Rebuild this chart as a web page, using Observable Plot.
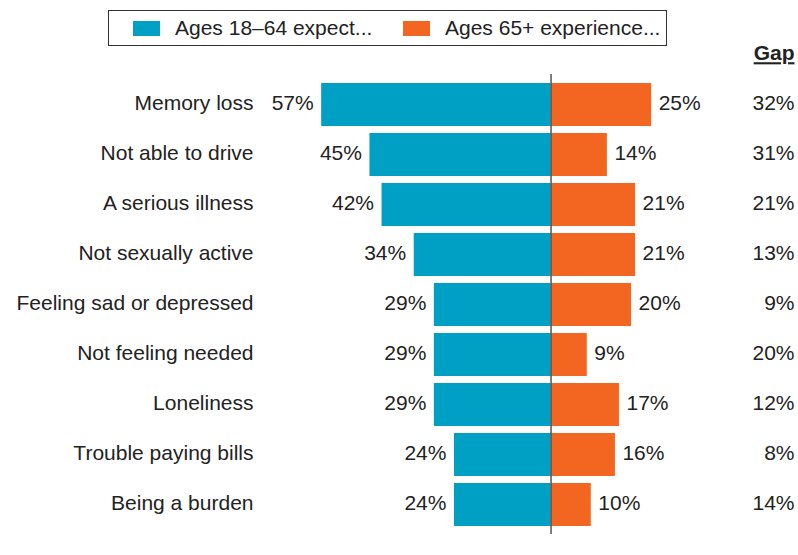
<!DOCTYPE html>
<html>
<head>
<meta charset="utf-8">
<script src="https://cdn.jsdelivr.net/npm/d3@7"></script>
<script src="https://cdn.jsdelivr.net/npm/@observablehq/plot@0.6"></script>
<style>
  html, body { margin: 0; padding: 0; background: #fff; }
  body { width: 798px; height: 555px; position: relative; overflow: hidden;
         font-family: "Liberation Sans", Arial, Helvetica, sans-serif; color: #222; }
  #legend { position: absolute; left: 108px; top: 10px; width: 557px; height: 34px;
            border: 1px solid #333; box-sizing: content-box; z-index: 2; background: #fff; }
  #legend .sw { position: absolute; top: 10px; width: 27px; height: 15px; }
  #legend .lb { position: absolute; top: 0; line-height: 34px; font-size: 21px; color: #222; white-space: nowrap; }
  #chart { position: absolute; left: 0; top: 40px; z-index: 1; }
</style>
</head>
<body>
<div id="legend"></div>
<div id="chart"></div>
<script>
const categories = ["Memory loss", "Not able to drive", "A serious illness", "Not sexually active",
  "Feeling sad or depressed", "Not feeling needed", "Loneliness", "Trouble paying bills", "Being a burden"];
const expect1864 = [57, 45, 42, 34, 29, 29, 29, 24, 24];
const experience65 = [25, 14, 21, 21, 20, 9, 17, 16, 10];
const gapValues = [32, 31, 21, 13, 9, 20, 12, 8, 14];
const seriesNames = ["Ages 18\u201364 expect...", "Ages 65+ experience..."];
const seriesColors = ["#00a0c4", "#f36621"];

const rows = categories.map((c, i) => ({cat: c, young: expect1864[i], old: experience65[i], gap: gapValues[i]}));

// Legend
const legend = document.getElementById("legend");
const legendPos = [[24, 66], [294, 336]];
seriesNames.forEach((name, i) => {
  const sw = document.createElement("div");
  sw.className = "sw"; sw.style.left = legendPos[i][0] + "px"; sw.style.background = seriesColors[i];
  legend.appendChild(sw);
  const lb = document.createElement("div");
  lb.className = "lb"; lb.style.left = legendPos[i][1] + "px"; lb.textContent = name;
  legend.appendChild(lb);
});

const fs = "21px";
const tdy = -2;
const chart = Plot.plot({
  width: 798,
  height: 515,
  marginLeft: 260,
  marginRight: 4,
  marginTop: 34,
  marginBottom: 21,
  style: {fontFamily: "Liberation Sans, Arial, sans-serif", fontSize: fs, color: "#222", background: "transparent"},
  x: {domain: [-72.2, 60.5], axis: null},
  y: {domain: categories, padding: 0.15, label: null},
  marks: [
    Plot.axisY({tickSize: 0, tickPadding: 7, fontSize: fs, label: null, dy: tdy}),
    Plot.barX(rows, {y: "cat", x1: 0, x2: d => -d.young, fill: seriesColors[0]}),
    Plot.barX(rows, {y: "cat", x1: 0, x2: "old", fill: seriesColors[1]}),
    Plot.ruleX([0], {stroke: "#555", strokeWidth: 1.5}),
    Plot.text(rows, {y: "cat", x: d => -d.young, text: d => d.young + "%", textAnchor: "end", dx: -8, dy: tdy, fontSize: fs, fill: "#222"}),
    Plot.text(rows, {y: "cat", x: "old", text: d => d.old + "%", textAnchor: "start", dx: 7, dy: tdy, fontSize: fs, fill: "#222"}),
    Plot.text(rows, {y: "cat", text: d => d.gap + "%", frameAnchor: "right", textAnchor: "end", dy: tdy, fontSize: fs, fill: "#222"}),
    Plot.text(["Gap"], {frameAnchor: "top-right", lineAnchor: "middle", textAnchor: "end", dy: -21, fontSize: fs, fontWeight: "bold", fill: "#222", className: "gaphead"})
  ]
});
d3.select(chart).selectAll(".gaphead text").style("text-decoration", "underline");
document.getElementById("chart").appendChild(chart);
</script>
</body>
</html>
